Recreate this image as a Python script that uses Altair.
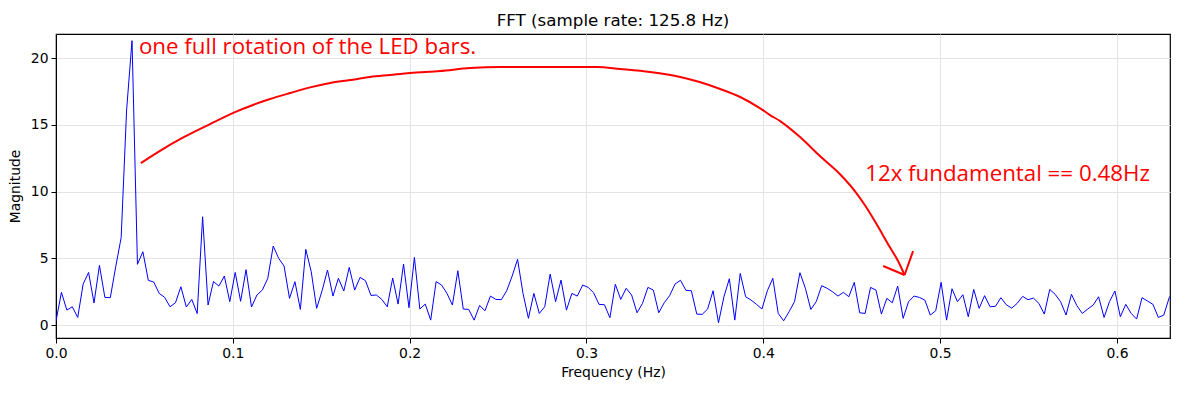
import altair as alt
import pandas as pd

# ---- data ----
BIN_HZ = 0.003071  # FFT bin spacing
magnitude = [
    0.3, 2.45, 1.12, 1.37, 0.57, 3.07, 3.94, 1.65, 4.47, 2.07,
    2.05, 4.37, 6.55, 16.1, 21.3, 4.55, 5.49, 3.35, 3.22, 2.37,
    2.08, 1.37, 1.67, 2.87, 1.35, 1.92, 0.86, 8.11, 1.5, 3.26,
    2.92, 3.67, 1.75, 3.94, 1.78, 4.15, 1.35, 2.25, 2.62, 3.5,
    5.92, 5.0, 4.42, 2.0, 3.25, 1.17, 5.67, 4.0, 1.25, 2.57,
    4.12, 2.17, 3.5, 2.55, 4.32, 2.62, 3.57, 3.32, 2.22, 2.25,
    1.92, 1.37, 3.52, 1.57, 4.57, 1.3, 5.07, 1.2, 1.57, 0.37,
    3.25, 3.0, 2.37, 1.5, 4.07, 1.2, 1.17, 0.37, 1.47, 1.07,
    2.17, 1.92, 1.9, 2.57, 3.67, 4.92, 2.37, 0.5, 2.37, 0.87,
    1.37, 3.82, 1.75, 3.37, 1.12, 2.37, 2.17, 3.0, 2.82, 2.42,
    1.55, 1.52, 0.55, 3.05, 1.92, 2.75, 2.25, 0.92, 1.62, 2.82,
    2.62, 0.92, 1.67, 2.2, 3.07, 3.35, 2.6, 2.57, 0.82, 0.8,
    1.2, 2.57, 0.17, 2.12, 3.47, 0.37, 3.87, 2.12, 1.87, 1.55,
    1.2, 2.57, 3.5, 0.87, 0.32, 1.0, 1.75, 3.92, 2.75, 1.17,
    1.75, 2.95, 2.75, 2.5, 2.17, 2.45, 2.12, 3.2, 0.92, 0.87,
    2.82, 2.62, 0.82, 2.0, 1.67, 2.92, 0.5, 1.75, 2.17, 2.07,
    1.87, 0.75, 1.07, 3.2, 0.37, 2.72, 1.75, 2.27, 0.62, 2.67,
    1.25, 2.2, 1.37, 1.4, 2.05, 1.52, 1.27, 1.62, 2.15, 1.9,
    2.02, 1.62, 0.82, 2.67, 2.3, 1.75, 0.75, 2.3, 1.45, 0.87,
    1.2, 1.5, 2.12, 0.57, 1.75, 2.55, 0.62, 1.55, 0.87, 0.45,
    2.05, 1.8, 1.55, 0.57, 0.75, 2.05, 2.6,
]

# hand-drawn red annotation arrow (data units)
arrow_x = [0.048, 0.0588, 0.072, 0.0871, 0.1022, 0.121, 0.1324, 0.1437, 0.155,
           0.1663, 0.1776, 0.1889, 0.2002, 0.2172, 0.2342, 0.2511, 0.306, 0.319,
           0.336, 0.353, 0.364, 0.3756, 0.3869, 0.398, 0.4038, 0.4095, 0.4208,
           0.432, 0.4434, 0.452, 0.4576, 0.4632, 0.4717, 0.4762, 0.4799]
arrow_y = [12.13, 13.05, 14.05, 15.05, 16.0, 16.93, 17.38, 17.8, 18.13,
           18.35, 18.58, 18.73, 18.88, 19.03, 19.25, 19.33, 19.33, 19.18,
           18.95, 18.58, 18.2, 17.68, 17.08, 16.25, 15.73, 15.28, 14.08,
           12.66, 11.3, 10.0, 8.95, 7.75, 5.8, 4.8, 3.75]
# arrow head: left barb and right barb, both meeting at the tip
barb_x = [0.4678, 0.4799, 0.4799, 0.4847]
barb_y = [4.42, 3.75, 3.75, 5.54]
barb_id = ["left", "left", "right", "right"]

notes = ["one full rotation of the LED bars.", "12x fundamental == 0.48Hz"]
notes_x = [0.0469, 0.4576]
notes_y = [20.3, 10.8]

TITLE = "FFT (sample rate: 125.8 Hz)"
x_ticks = [0.0, 0.1, 0.2, 0.3, 0.4, 0.5, 0.6]
y_ticks = [0, 5, 10, 15, 20]

W, H = 1114, 304

# ---- tables ----
fft_df = pd.DataFrame({
    "freq": [i * BIN_HZ for i in range(len(magnitude))],
    "mag": magnitude,
})
curve_df = pd.DataFrame({"x": arrow_x, "y": arrow_y})
barb_df = pd.DataFrame({"x": barb_x, "y": barb_y, "id": barb_id,
                        "order": [0, 1, 0, 1]})
notes_df = pd.DataFrame({"x": notes_x, "y": notes_y, "text": notes})
title_df = pd.DataFrame({"text": [TITLE]})

xscale = alt.Scale(domain=[0, 0.63], nice=False, zero=False)
yscale = alt.Scale(domain=[-0.97, 21.8], nice=False, zero=False)

xenc = alt.X("freq:Q", scale=xscale,
             axis=alt.Axis(title="Frequency (Hz)", values=x_ticks, format=".1f",
                           labelFlush=False, labelOverlap=False))
yenc = alt.Y("mag:Q", scale=yscale,
             axis=alt.Axis(title="Magnitude", values=y_ticks, format="d",
                           labelFlush=False, labelOverlap=False))

fft_line = alt.Chart(fft_df).mark_line(color="#0000ff", strokeWidth=1, clip=True).encode(
    x=xenc, y=yenc
)

curve = alt.Chart(curve_df).mark_line(
    color="#ff0000", strokeWidth=2, clip=True, interpolate="monotone"
).encode(
    x=alt.X("x:Q", scale=xscale),
    y=alt.Y("y:Q", scale=yscale),
)

barb = alt.Chart(barb_df).mark_line(color="#ff0000", strokeWidth=2, clip=True).encode(
    x=alt.X("x:Q", scale=xscale),
    y=alt.Y("y:Q", scale=yscale),
    detail="id:N",
    order="order:Q",
)

text = alt.Chart(notes_df).mark_text(
    color="#ff0000", font="Open Sans", fontSize=22.3, align="left", baseline="alphabetic"
).encode(
    x=alt.X("x:Q", scale=xscale),
    y=alt.Y("y:Q", scale=yscale),
    text="text:N",
)

title = alt.Chart(title_df).mark_text(
    font="DejaVu Sans", fontSize=16.7, color="black", align="center", baseline="alphabetic"
).encode(
    x=alt.value(W / 2),
    y=alt.value(-8),
    text="text:N",
)

chart = (
    alt.layer(fft_line, curve, barb, text, title)
    .properties(
        width=W,
        height=H,
        autosize=alt.AutoSizeParams(type="none"),
        padding={"left": 48, "top": 26, "right": 13, "bottom": 47},
    )
    .configure_view(stroke="black", strokeWidth=1.2)
    .configure_axis(
        labelFont="DejaVu Sans",
        labelFontSize=13.9,
        labelColor="black",
        titleFont="DejaVu Sans",
        titleFontSize=13.9,
        titleFontWeight="normal",
        titleColor="black",
        tickColor="black",
        tickSize=5,
        labelPadding=3,
        domainColor="black",
        gridColor="#e3e3e3",
        gridWidth=1,
    )
    .configure_axisX(titlePadding=6)
    .configure_axisY(titlePadding=8)
)

chart.save("out.html", embed_options={"renderer": "svg", "actions": False})
